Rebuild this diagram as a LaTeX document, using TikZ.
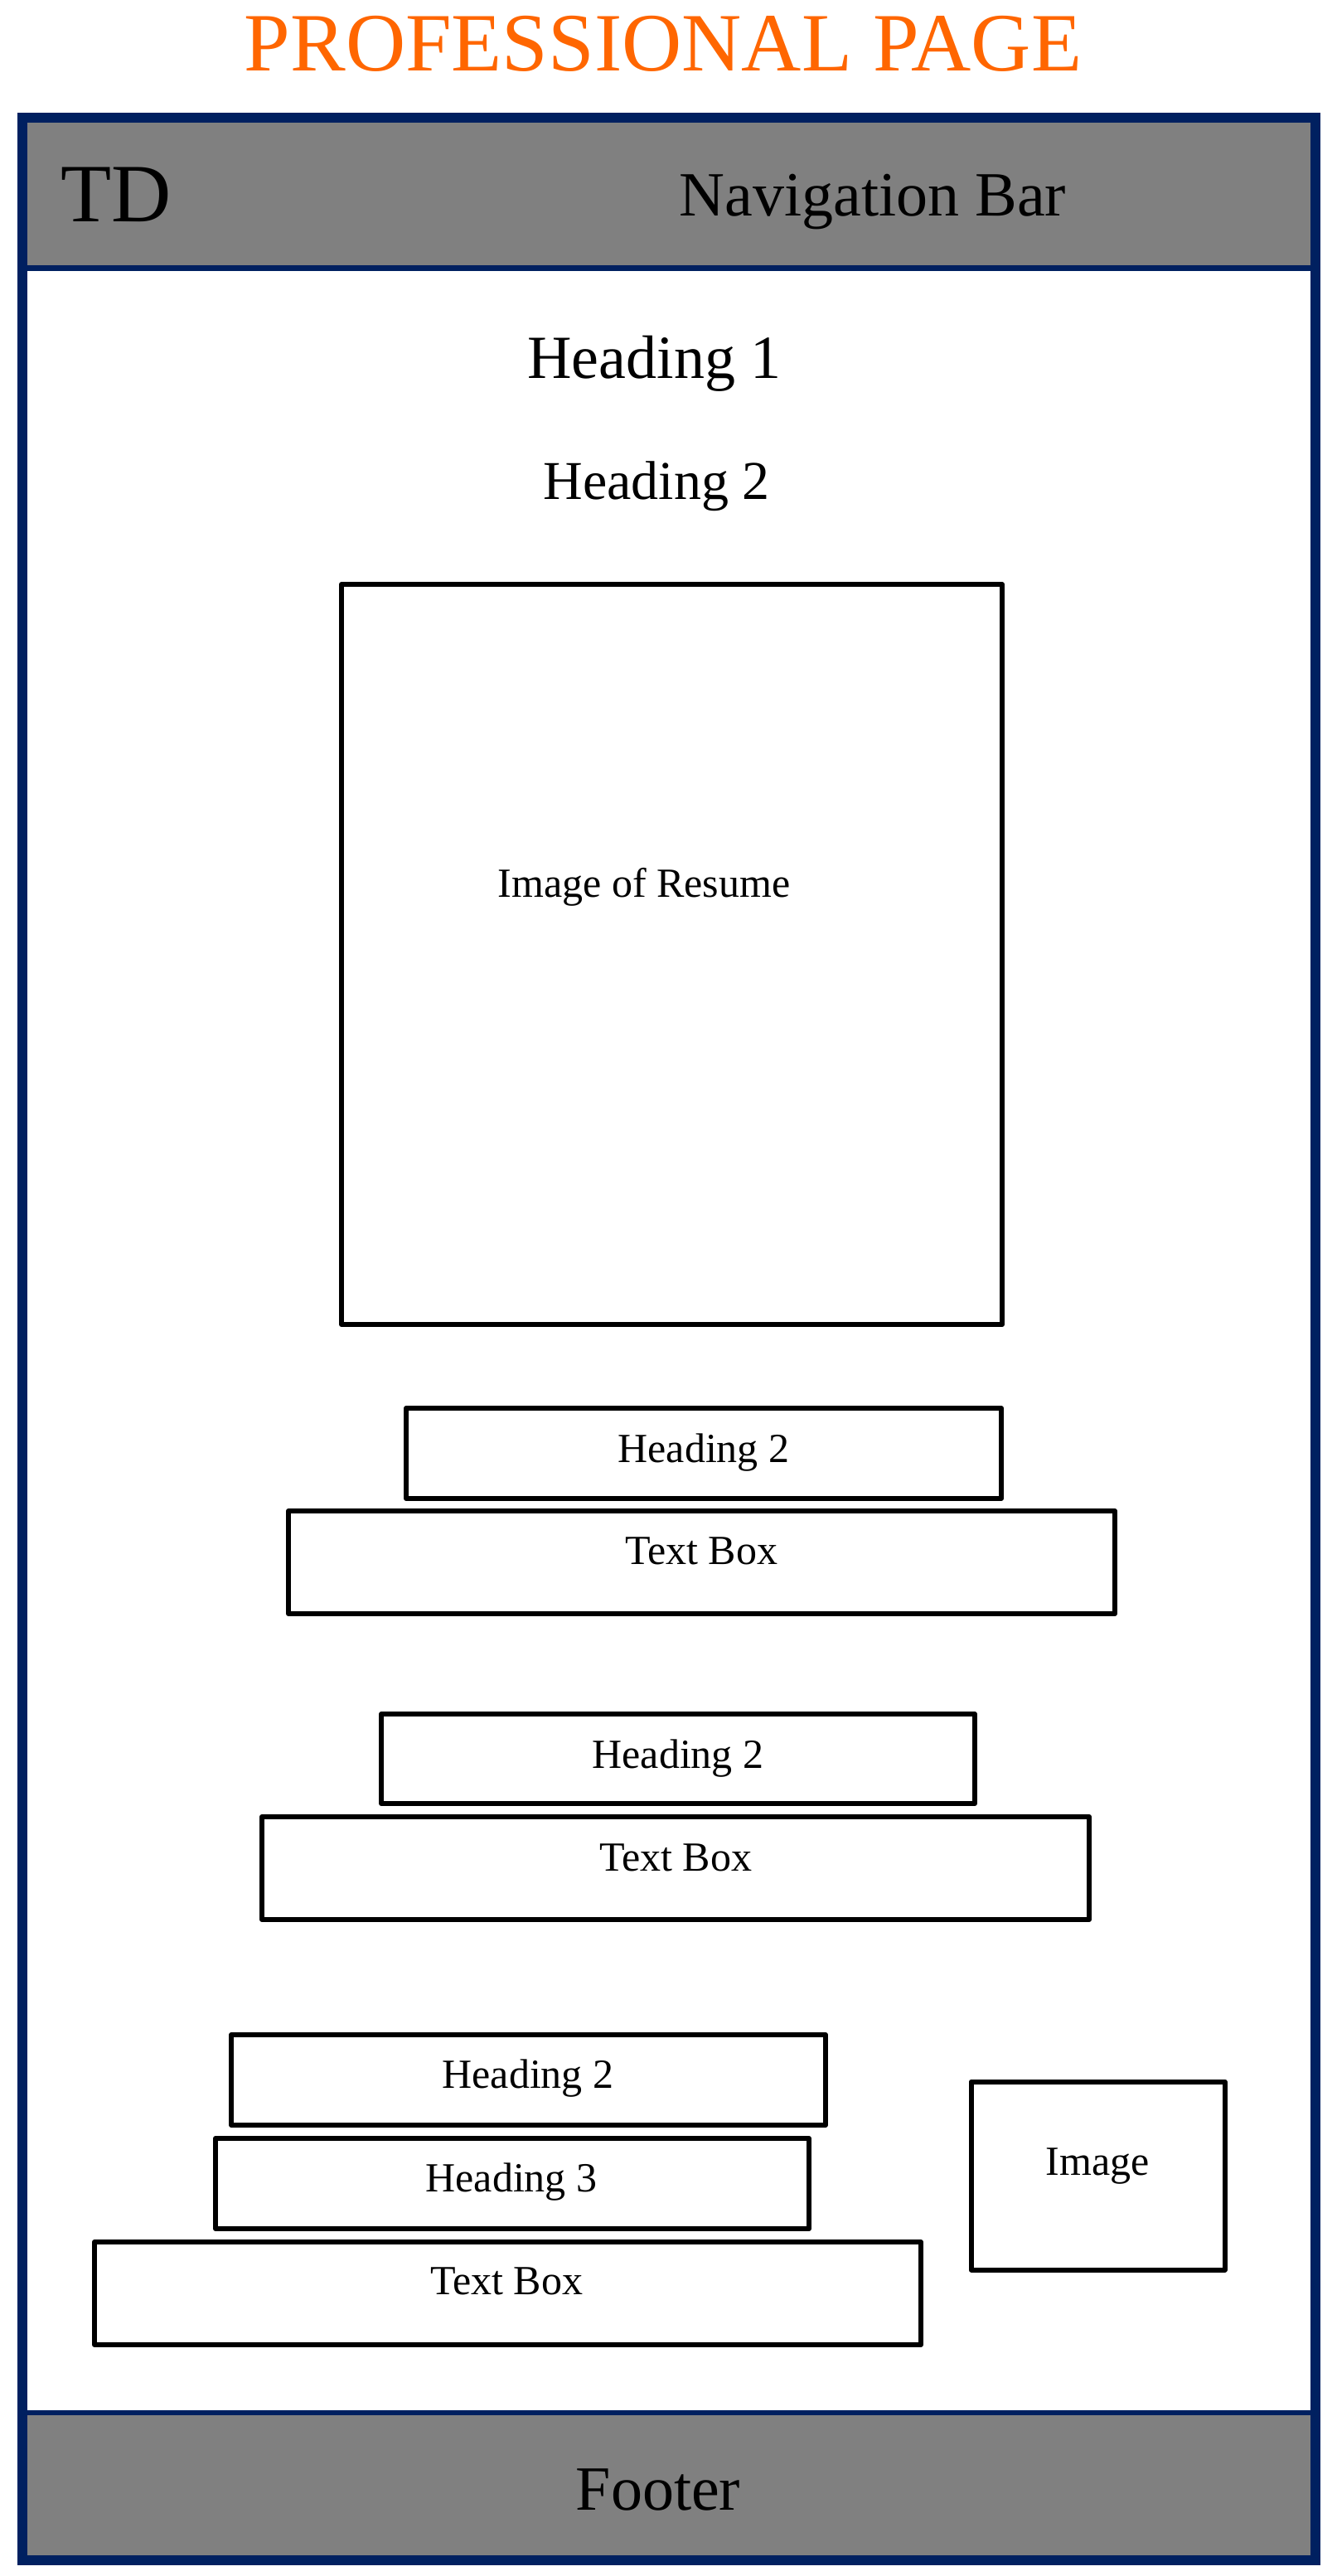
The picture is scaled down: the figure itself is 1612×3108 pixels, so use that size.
\documentclass[tikz,border=0pt]{standalone}
\usepackage{fontspec}
\setmainfont{Liberation Serif}
\usepackage{tikz}
\definecolor{navy}{RGB}{0,32,96}
\definecolor{titleorange}{RGB}{255,102,0}
\definecolor{bargray}{RGB}{128,128,128}

\begin{document}
\begin{tikzpicture}[x=0.5pt,y=-0.5pt,
  wire/.style={draw=black,line width=3pt,line join=round},
  txt/.style={anchor=base,inner sep=0pt,font=\fontsize{25}{30}\selectfont},
  big/.style={anchor=base,inner sep=0pt,font=\fontsize{38}{44}\selectfont}]
\useasboundingbox (0,0) rectangle (1612,3108);
\node [big,text=titleorange,font=\fontsize{50}{60}\selectfont] (title) at (800,86) {PROFESSIONAL PAGE};
% bars
\fill [bargray] (27,142) rectangle (1587,323.5);
\fill [bargray] (27,2911) rectangle (1587,3089);
\draw [navy,line width=3.5pt] (27,323.5) -- (1587,323.5);
\draw [navy,line width=3pt] (27,2911) -- (1587,2911);
\draw [navy,line width=6pt] (27,142) rectangle (1587,3089);
\node [big,anchor=base west,font=\fontsize{50}{60}\selectfont] (td) at (73,268) {TD};
\node [big] (nav) at (1053,261) {Navigation Bar};
\node [big] (foot) at (794,3028) {Footer};
% headings
\node [big,font=\fontsize{37}{44}\selectfont] (h1) at (789.5,457) {Heading 1};
\node [big,font=\fontsize{33}{40}\selectfont] (h2) at (792,602) {Heading 2};
% resume
\draw [wire] (412,705) rectangle (1209,1598);
\node [txt] (res) at (777,1082) {Image of Resume};
% first block
\draw [wire] (490,1699) rectangle (1208,1808);
\node [txt] (h2a) at (849,1764) {Heading 2};
\draw [wire] (348,1823) rectangle (1345,1947);
\node [txt] (tba) at (846,1887) {Text Box};
% second block
\draw [wire] (460,2068) rectangle (1176,2176);
\node [txt] (h2b) at (818,2133) {Heading 2};
\draw [wire] (316,2192) rectangle (1314,2316);
\node [txt] (tbb) at (815,2257) {Text Box};
% third block
\draw [wire] (279,2455) rectangle (996,2564);
\node [txt] (h2c) at (637,2519) {Heading 2};
\draw [wire] (260,2580) rectangle (976,2689);
\node [txt] (h3c) at (617,2644) {Heading 3};
\draw [wire] (114,2705) rectangle (1111,2829);
\node [txt] (tbc) at (611,2768) {Text Box};
\draw [wire] (1171.5,2511.5) rectangle (1477.5,2738.5);
\node [txt] (img) at (1324,2624) {Image};
\end{tikzpicture}
\end{document}
